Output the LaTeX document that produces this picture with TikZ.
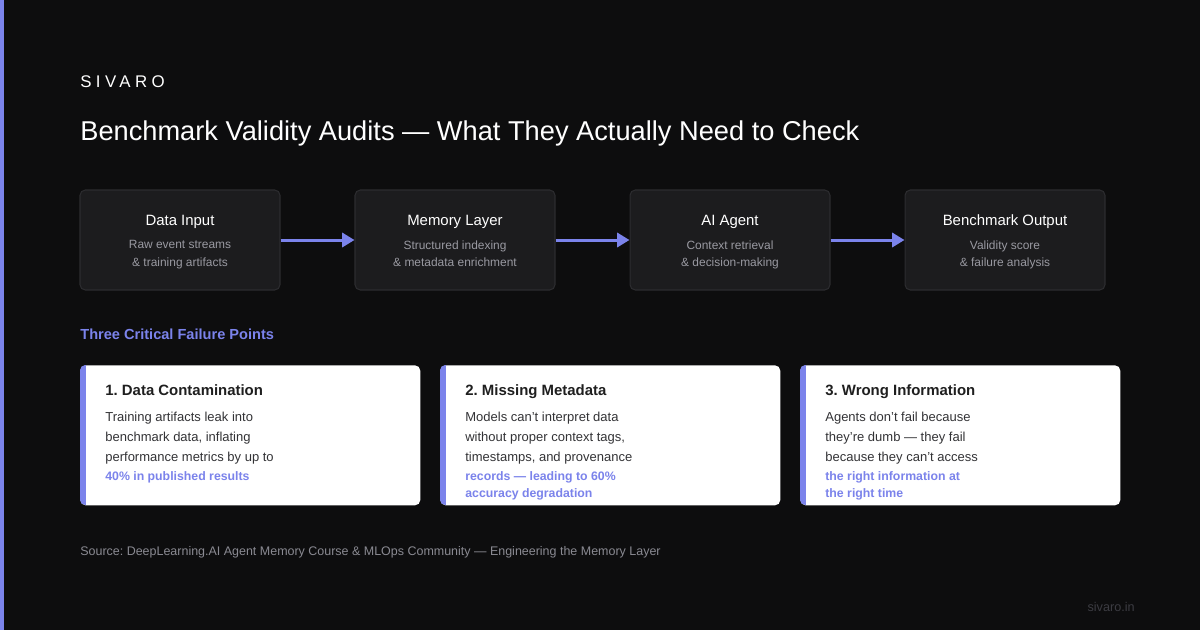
\documentclass[tikz,border=0pt]{standalone}
\usepackage{fontspec}
\setmainfont{Liberation Sans}
\usepackage{tikz}
\usetikzlibrary{arrows.meta}
\definecolor{bgdark}{HTML}{0D0D0E}
\definecolor{accent}{HTML}{7B83EB}
\definecolor{boxfill}{HTML}{1C1C1E}
\definecolor{boxline}{HTML}{2C2C2F}
\definecolor{subgray}{HTML}{9A9AA2}
\definecolor{bodygray}{HTML}{333336}
\definecolor{srcgray}{HTML}{8A8A92}
\definecolor{footgray}{HTML}{3C3C42}
\newcommand{\fs}[2]{\fontsize{#1}{#2}\selectfont}
\frenchspacing

\begin{document}
\begin{tikzpicture}[x=0.02cm,y=-0.02cm,font=\fs{8.5}{10},
    stage/.style={draw=boxline,line width=0.6pt,fill=boxfill,rounded corners=3pt,
      minimum width=4cm,minimum height=2cm,inner sep=0pt},
    stagetitle/.style={text=white,font=\fs{8.5}{10},inner sep=0pt,anchor=base},
    stagesub/.style={text=subgray,font=\fs{6.8}{10.2},align=center,inner sep=0pt,anchor=north},
    flow/.style={accent,line width=1.7pt,-{Triangle[length=7pt,width=8pt]}},
    card/.style={fill=white,rounded corners=3pt,minimum height=2.8cm,inner sep=0pt,anchor=north west},
    cardtitle/.style={text=black!88,font=\bfseries\fs{8.5}{10},inner sep=0pt,anchor=base west},
    cardbody/.style={text=bodygray,font=\fs{7.4}{11.3},align=left,inner sep=0pt,anchor=north west},
    cardhi/.style={text=accent,font=\bfseries\fs{7.0}{9.6},align=left,inner sep=0pt,anchor=north west}]
  % canvas
  \fill[bgdark] (0,0) rectangle (1200,630);
  \useasboundingbox (0,0) rectangle (1200,630);
  \fill[accent] (0,0) rectangle (4,630);

  % header
  \node[text=white,anchor=base west,inner sep=0pt,font=\fs{9.6}{11}\addfontfeatures{LetterSpace=26}]
    (brand) at (80,87) {SIVARO};
  \node[text=white,anchor=base west,inner sep=0pt,font=\fs{15.5}{18}]
    (title) at (80,140) {Benchmark Validity Audits — What They Actually Need to Check};

  % pipeline
  \node[stage] (input) at (180,240) {};
  \node[stage] (memory) at (455,240) {};
  \node[stage] (agent) at (730,240) {};
  \node[stage] (output) at (1005,240) {};

  \node[stagetitle] (inputtitle) at (180,225) {Data Input};
  \node[stagesub] (inputsub) at (180,240) {Raw event streams\\\& training artifacts};
  \node[stagetitle] (memorytitle) at (455,225) {Memory Layer};
  \node[stagesub] (memorysub) at (455,240) {Structured indexing\\\& metadata enrichment};
  \node[stagetitle] (agenttitle) at (730,225) {AI Agent};
  \node[stagesub] (agentsub) at (730,240) {Context retrieval\\\& decision-making};
  \node[stagetitle] (outputtitle) at (1005,225) {Benchmark Output};
  \node[stagesub] (outputsub) at (1005,240) {Validity score\\\& failure analysis};

  \draw[flow] (input) -- (memory);
  \draw[flow] (memory) -- (agent);
  \draw[flow] (agent) -- (output);

  % failure points
  \node[text=accent,anchor=base west,inner sep=0pt,font=\bfseries\fs{8.3}{10}]
    (section) at (80,339) {Three Critical Failure Points};

  \node[card,minimum width=6.8cm] (contam) at (80,365) {};
  \node[card,minimum width=6.8cm] (metadata) at (440,365) {};
  \node[card,minimum width=6.4cm] (wronginfo) at (800,365) {};
  \begin{scope}
    \clip[rounded corners=3pt] (80,365) rectangle (420,505);
    \fill[accent] (80,365) rectangle (86,505);
  \end{scope}
  \begin{scope}
    \clip[rounded corners=3pt] (440,365) rectangle (780,505);
    \fill[accent] (440,365) rectangle (446,505);
  \end{scope}
  \begin{scope}
    \clip[rounded corners=3pt] (800,365) rectangle (1120,505);
    \fill[accent] (800,365) rectangle (806,505);
  \end{scope}

  \node[cardtitle] (contamtitle) at (105,395) {1. Data Contamination};
  \node[cardbody] (contambody) at (105,412)
    {Training artifacts leak into\\benchmark data, inflating\\performance metrics by up to};
  \node[cardhi] (contamhi) at (105,471) {40\% in published results};

  \node[cardtitle] (metadatatitle) at (465,395) {2. Missing Metadata};
  \node[cardbody] (metadatabody) at (465,412)
    {Models can’t interpret data\\without proper context tags,\\timestamps, and provenance};
  \node[cardhi] (metadatahi) at (465,471) {records — leading to 60\%\\accuracy degradation};

  \node[cardtitle] (wronginfotitle) at (825,395) {3. Wrong Information};
  \node[cardbody] (wronginfobody) at (825,412)
    {Agents don’t fail because\\they’re dumb — they fail\\because they can’t access};
  \node[cardhi] (wronginfohi) at (825,471) {the right information at\\the right time};

  % footer
  \node[text=srcgray,anchor=base west,inner sep=0pt,font=\fs{7.1}{8}] (source) at (80,555)
    {Source: DeepLearning.AI Agent Memory Course \& MLOps Community — Engineering the Memory Layer};
  \node[text=footgray,anchor=base east,inner sep=0pt,font=\fs{7.2}{8}] (site) at (1135,611) {sivaro.in};
\end{tikzpicture}
\end{document}
